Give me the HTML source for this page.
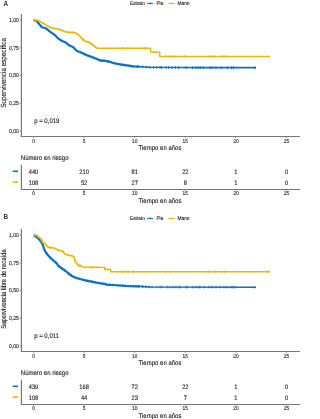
<!DOCTYPE html>
<html><head><meta charset="utf-8"><style>
html,body{margin:0;padding:0;background:#fff;width:300px;height:419px;overflow:hidden}
svg{display:block}
#w{width:300px;height:419px;will-change:transform}
text{font-family:"Liberation Sans", sans-serif;text-rendering:geometricPrecision}
</style></head><body><div id="w">
<svg width="300" height="419" viewBox="0 0 300 419">
<rect width="300" height="419" fill="#fff"/>
<text transform="translate(3.50,6.00) scale(1.0,1.12)" font-size="6.4" text-anchor="start" fill="#2a2a2a" stroke="#2a2a2a" stroke-width="0" font-weight="bold">A</text>
<text transform="translate(130.00,5.00) scale(1.0,1.12)" font-size="4.7" text-anchor="start" fill="#1a1a1a" stroke="#1a1a1a" stroke-width="0.1" >Estrato</text>
<line x1="147.00" y1="3.40" x2="153.20" y2="3.40" stroke="#0A70C0" stroke-width="1.0"/>
<line x1="150.40" y1="2.20" x2="150.40" y2="4.60" stroke="#0A70C0" stroke-width="0.7"/>
<text transform="translate(156.40,5.00) scale(1.0,1.12)" font-size="4.8" text-anchor="start" fill="#1a1a1a" stroke="#1a1a1a" stroke-width="0.1" >Pie</text>
<line x1="168.20" y1="3.40" x2="175.20" y2="3.40" stroke="#E9B800" stroke-width="1.0"/>
<line x1="171.70" y1="2.20" x2="171.70" y2="4.60" stroke="#E9B800" stroke-width="0.7"/>
<text transform="translate(177.50,5.00) scale(1.0,1.12)" font-size="4.8" text-anchor="start" fill="#1a1a1a" stroke="#1a1a1a" stroke-width="0.1" >Mano</text>
<line x1="21.40" y1="14.00" x2="21.40" y2="137.00" stroke="#777777" stroke-width="1.2"/>
<line x1="21.00" y1="136.50" x2="300.00" y2="136.50" stroke="#777777" stroke-width="1.2"/>
<line x1="19.60" y1="131.00" x2="21.20" y2="131.00" stroke="#777777" stroke-width="0.7"/>
<text transform="translate(18.90,132.80) scale(1.0,1.12)" font-size="5.1" text-anchor="end" fill="#1a1a1a" stroke="#1a1a1a" stroke-width="0.1" >0,00</text>
<line x1="19.60" y1="103.25" x2="21.20" y2="103.25" stroke="#777777" stroke-width="0.7"/>
<text transform="translate(18.90,105.05) scale(1.0,1.12)" font-size="5.1" text-anchor="end" fill="#1a1a1a" stroke="#1a1a1a" stroke-width="0.1" >0,25</text>
<line x1="19.60" y1="75.50" x2="21.20" y2="75.50" stroke="#777777" stroke-width="0.7"/>
<text transform="translate(18.90,77.30) scale(1.0,1.12)" font-size="5.1" text-anchor="end" fill="#1a1a1a" stroke="#1a1a1a" stroke-width="0.1" >0,50</text>
<line x1="19.60" y1="47.75" x2="21.20" y2="47.75" stroke="#777777" stroke-width="0.7"/>
<text transform="translate(18.90,49.55) scale(1.0,1.12)" font-size="5.1" text-anchor="end" fill="#1a1a1a" stroke="#1a1a1a" stroke-width="0.1" >0,75</text>
<line x1="19.60" y1="20.00" x2="21.20" y2="20.00" stroke="#777777" stroke-width="0.7"/>
<text transform="translate(18.90,21.80) scale(1.0,1.12)" font-size="5.1" text-anchor="end" fill="#1a1a1a" stroke="#1a1a1a" stroke-width="0.1" >1,00</text>
<line x1="33.50" y1="136.50" x2="33.50" y2="138.10" stroke="#777777" stroke-width="0.7"/>
<text transform="translate(33.50,142.70) scale(1.0,1.12)" font-size="4.9" text-anchor="middle" fill="#1a1a1a" stroke="#1a1a1a" stroke-width="0.1" >0</text>
<line x1="84.10" y1="136.50" x2="84.10" y2="138.10" stroke="#777777" stroke-width="0.7"/>
<text transform="translate(84.10,142.70) scale(1.0,1.12)" font-size="4.9" text-anchor="middle" fill="#1a1a1a" stroke="#1a1a1a" stroke-width="0.1" >5</text>
<line x1="134.70" y1="136.50" x2="134.70" y2="138.10" stroke="#777777" stroke-width="0.7"/>
<text transform="translate(134.70,142.70) scale(1.0,1.12)" font-size="4.9" text-anchor="middle" fill="#1a1a1a" stroke="#1a1a1a" stroke-width="0.1" >10</text>
<line x1="185.30" y1="136.50" x2="185.30" y2="138.10" stroke="#777777" stroke-width="0.7"/>
<text transform="translate(185.30,142.70) scale(1.0,1.12)" font-size="4.9" text-anchor="middle" fill="#1a1a1a" stroke="#1a1a1a" stroke-width="0.1" >15</text>
<line x1="235.90" y1="136.50" x2="235.90" y2="138.10" stroke="#777777" stroke-width="0.7"/>
<text transform="translate(235.90,142.70) scale(1.0,1.12)" font-size="4.9" text-anchor="middle" fill="#1a1a1a" stroke="#1a1a1a" stroke-width="0.1" >20</text>
<line x1="286.50" y1="136.50" x2="286.50" y2="138.10" stroke="#777777" stroke-width="0.7"/>
<text transform="translate(286.50,142.70) scale(1.0,1.12)" font-size="4.9" text-anchor="middle" fill="#1a1a1a" stroke="#1a1a1a" stroke-width="0.1" >25</text>
<text transform="translate(160.00,149.70) scale(1.0,1.12)" font-size="6.0" text-anchor="middle" fill="#1a1a1a" stroke="#1a1a1a" stroke-width="0.1" >Tiempo en años</text>
<text x="0" y="0" font-size="6.3" text-anchor="middle" fill="#1a1a1a" stroke="#1a1a1a" stroke-width="0.1" transform="translate(5.9,72.80) rotate(-90) scale(1,1.2)">Supervivencia específica</text>
<text transform="translate(34.20,122.60) scale(1.0,1.12)" font-size="6.0" text-anchor="start" fill="#1a1a1a" stroke="#1a1a1a" stroke-width="0.1" >p = 0,019</text>
<polyline points="33.50,20.00 36.70,21.00 39.30,24.30 42.00,27.30 46.00,28.30 50.00,31.70 54.00,34.30 58.00,38.30 62.00,41.00 65.50,42.30 69.50,45.60 73.00,47.00 77.00,51.00 82.30,53.00 86.30,55.00 91.70,57.00 97.00,59.00 101.00,60.70 104.00,60.70 109.30,61.60 113.30,63.00 120.00,64.30 126.70,65.30 133.30,66.40 140.00,66.70 140.00,66.70" fill="none" stroke="#0A70C0" stroke-width="2.2" stroke-linejoin="round" stroke-linecap="butt"/>
<polyline points="140.00,66.70 140.00,66.70 150.00,67.30 200.00,67.60 256.00,67.60" fill="none" stroke="#0A70C0" stroke-width="1.6" stroke-linejoin="round" stroke-linecap="butt"/>
<path d="M82.00 51.59V54.19M85.00 53.05V55.65M88.00 54.33V56.93M91.00 55.44V58.04M94.00 56.57V59.17M97.00 57.70V60.30M100.00 58.98V61.58M102.70 59.40V62.00M108.00 60.08V62.68M114.70 61.97V64.57M121.30 63.19V65.79M125.30 63.79V66.39M129.30 64.43V67.03M133.30 65.10V67.70M137.30 65.28V67.88M142.70 65.56V68.16M146.70 65.80V68.40M150.00 66.00V68.60M153.30 66.02V68.62M156.70 66.04V68.64M160.00 66.06V68.66M161.30 66.07V68.67M166.00 66.10V68.70M168.70 66.11V68.71M172.00 66.13V68.73M175.30 66.15V68.75M178.70 66.17V68.77M186.00 66.22V68.82M192.70 66.26V68.86M196.00 66.28V68.88M198.70 66.29V68.89M200.70 66.30V68.90M203.30 66.30V68.90M210.00 66.30V68.90M212.00 66.30V68.90M216.00 66.30V68.90M221.00 66.30V68.90M227.60 66.30V68.90M231.60 66.30V68.90M233.60 66.30V68.90M255.00 66.30V68.90" stroke="#0A70C0" stroke-width="1.0" fill="none"/>
<polyline points="33.50,20.00 38.00,20.30 40.00,21.70 43.30,23.30 46.00,25.00 50.00,27.30 54.00,28.30 58.00,29.00 62.00,30.30 64.70,31.70 69.00,32.30 74.30,32.30 77.00,33.70 79.70,35.70 82.30,39.00 85.00,41.00 89.00,42.30 93.00,45.00 97.00,48.20 97.00,48.20" fill="none" stroke="#E9B800" stroke-width="1.75" stroke-linejoin="round" stroke-linecap="butt"/>
<polyline points="97.00,48.20 97.00,48.20 150.70,48.20 150.70,52.10 159.70,52.10 159.70,56.50 270.00,56.50" fill="none" stroke="#E9B800" stroke-width="1.4" stroke-linejoin="round" stroke-linecap="butt"/>
<path d="M83.00 38.22V40.82M88.00 40.67V43.27M92.00 43.03V45.62M120.00 46.90V49.50M122.70 46.90V49.50M128.00 46.90V49.50M144.00 46.90V49.50M145.30 46.90V49.50M153.30 50.80V53.40M156.00 50.80V53.40M165.30 55.20V57.80M170.70 55.20V57.80M174.70 55.20V57.80M184.70 55.20V57.80M209.30 55.20V57.80M213.30 55.20V57.80M222.70 55.20V57.80M225.30 55.20V57.80" stroke="#E9B800" stroke-width="1.0" fill="none"/>
<text transform="translate(20.80,160.00) scale(1.0,1.12)" font-size="6.0" text-anchor="start" fill="#1a1a1a" stroke="#1a1a1a" stroke-width="0.1" >Número en riesgo</text>
<line x1="12.70" y1="171.30" x2="18.00" y2="171.30" stroke="#0A70C0" stroke-width="1.6"/>
<line x1="12.70" y1="182.10" x2="18.00" y2="182.10" stroke="#E9B800" stroke-width="1.6"/>
<line x1="21.40" y1="164.70" x2="21.40" y2="190.00" stroke="#777777" stroke-width="1.2"/>
<line x1="21.00" y1="189.50" x2="300.00" y2="189.50" stroke="#777777" stroke-width="1.2"/>
<text transform="translate(33.50,174.00) scale(1.0,1.12)" font-size="5.7" text-anchor="middle" fill="#1a1a1a" stroke="#1a1a1a" stroke-width="0.1" >440</text>
<text transform="translate(33.50,184.80) scale(1.0,1.12)" font-size="5.7" text-anchor="middle" fill="#1a1a1a" stroke="#1a1a1a" stroke-width="0.1" >108</text>
<line x1="33.50" y1="189.50" x2="33.50" y2="191.10" stroke="#777777" stroke-width="0.7"/>
<text transform="translate(33.50,195.10) scale(1.0,1.12)" font-size="4.9" text-anchor="middle" fill="#1a1a1a" stroke="#1a1a1a" stroke-width="0.1" >0</text>
<text transform="translate(84.10,174.00) scale(1.0,1.12)" font-size="5.7" text-anchor="middle" fill="#1a1a1a" stroke="#1a1a1a" stroke-width="0.1" >210</text>
<text transform="translate(84.10,184.80) scale(1.0,1.12)" font-size="5.7" text-anchor="middle" fill="#1a1a1a" stroke="#1a1a1a" stroke-width="0.1" >52</text>
<line x1="84.10" y1="189.50" x2="84.10" y2="191.10" stroke="#777777" stroke-width="0.7"/>
<text transform="translate(84.10,195.10) scale(1.0,1.12)" font-size="4.9" text-anchor="middle" fill="#1a1a1a" stroke="#1a1a1a" stroke-width="0.1" >5</text>
<text transform="translate(134.70,174.00) scale(1.0,1.12)" font-size="5.7" text-anchor="middle" fill="#1a1a1a" stroke="#1a1a1a" stroke-width="0.1" >81</text>
<text transform="translate(134.70,184.80) scale(1.0,1.12)" font-size="5.7" text-anchor="middle" fill="#1a1a1a" stroke="#1a1a1a" stroke-width="0.1" >27</text>
<line x1="134.70" y1="189.50" x2="134.70" y2="191.10" stroke="#777777" stroke-width="0.7"/>
<text transform="translate(134.70,195.10) scale(1.0,1.12)" font-size="4.9" text-anchor="middle" fill="#1a1a1a" stroke="#1a1a1a" stroke-width="0.1" >10</text>
<text transform="translate(185.30,174.00) scale(1.0,1.12)" font-size="5.7" text-anchor="middle" fill="#1a1a1a" stroke="#1a1a1a" stroke-width="0.1" >22</text>
<text transform="translate(185.30,184.80) scale(1.0,1.12)" font-size="5.7" text-anchor="middle" fill="#1a1a1a" stroke="#1a1a1a" stroke-width="0.1" >8</text>
<line x1="185.30" y1="189.50" x2="185.30" y2="191.10" stroke="#777777" stroke-width="0.7"/>
<text transform="translate(185.30,195.10) scale(1.0,1.12)" font-size="4.9" text-anchor="middle" fill="#1a1a1a" stroke="#1a1a1a" stroke-width="0.1" >15</text>
<text transform="translate(235.90,174.00) scale(1.0,1.12)" font-size="5.7" text-anchor="middle" fill="#1a1a1a" stroke="#1a1a1a" stroke-width="0.1" >1</text>
<text transform="translate(235.90,184.80) scale(1.0,1.12)" font-size="5.7" text-anchor="middle" fill="#1a1a1a" stroke="#1a1a1a" stroke-width="0.1" >1</text>
<line x1="235.90" y1="189.50" x2="235.90" y2="191.10" stroke="#777777" stroke-width="0.7"/>
<text transform="translate(235.90,195.10) scale(1.0,1.12)" font-size="4.9" text-anchor="middle" fill="#1a1a1a" stroke="#1a1a1a" stroke-width="0.1" >20</text>
<text transform="translate(286.50,174.00) scale(1.0,1.12)" font-size="5.7" text-anchor="middle" fill="#1a1a1a" stroke="#1a1a1a" stroke-width="0.1" >0</text>
<text transform="translate(286.50,184.80) scale(1.0,1.12)" font-size="5.7" text-anchor="middle" fill="#1a1a1a" stroke="#1a1a1a" stroke-width="0.1" >0</text>
<line x1="286.50" y1="189.50" x2="286.50" y2="191.10" stroke="#777777" stroke-width="0.7"/>
<text transform="translate(286.50,195.10) scale(1.0,1.12)" font-size="4.9" text-anchor="middle" fill="#1a1a1a" stroke="#1a1a1a" stroke-width="0.1" >25</text>
<text transform="translate(160.00,202.50) scale(1.0,1.12)" font-size="6.0" text-anchor="middle" fill="#1a1a1a" stroke="#1a1a1a" stroke-width="0.1" >Tiempo en años</text>
<text transform="translate(3.50,219.30) scale(1.0,1.12)" font-size="6.4" text-anchor="start" fill="#2a2a2a" stroke="#2a2a2a" stroke-width="0" font-weight="bold">B</text>
<text transform="translate(130.00,220.00) scale(1.0,1.12)" font-size="4.7" text-anchor="start" fill="#1a1a1a" stroke="#1a1a1a" stroke-width="0.1" >Estrato</text>
<line x1="147.00" y1="218.40" x2="153.20" y2="218.40" stroke="#0A70C0" stroke-width="1.0"/>
<line x1="150.40" y1="217.20" x2="150.40" y2="219.60" stroke="#0A70C0" stroke-width="0.7"/>
<text transform="translate(156.40,220.00) scale(1.0,1.12)" font-size="4.8" text-anchor="start" fill="#1a1a1a" stroke="#1a1a1a" stroke-width="0.1" >Pie</text>
<line x1="168.20" y1="218.40" x2="175.20" y2="218.40" stroke="#E9B800" stroke-width="1.0"/>
<line x1="171.70" y1="217.20" x2="171.70" y2="219.60" stroke="#E9B800" stroke-width="0.7"/>
<text transform="translate(177.50,220.00) scale(1.0,1.12)" font-size="4.8" text-anchor="start" fill="#1a1a1a" stroke="#1a1a1a" stroke-width="0.1" >Mano</text>
<line x1="21.40" y1="229.00" x2="21.40" y2="352.00" stroke="#777777" stroke-width="1.2"/>
<line x1="21.00" y1="351.50" x2="300.00" y2="351.50" stroke="#777777" stroke-width="1.2"/>
<line x1="19.60" y1="346.00" x2="21.20" y2="346.00" stroke="#777777" stroke-width="0.7"/>
<text transform="translate(18.90,347.80) scale(1.0,1.12)" font-size="5.1" text-anchor="end" fill="#1a1a1a" stroke="#1a1a1a" stroke-width="0.1" >0,00</text>
<line x1="19.60" y1="318.25" x2="21.20" y2="318.25" stroke="#777777" stroke-width="0.7"/>
<text transform="translate(18.90,320.05) scale(1.0,1.12)" font-size="5.1" text-anchor="end" fill="#1a1a1a" stroke="#1a1a1a" stroke-width="0.1" >0,25</text>
<line x1="19.60" y1="290.50" x2="21.20" y2="290.50" stroke="#777777" stroke-width="0.7"/>
<text transform="translate(18.90,292.30) scale(1.0,1.12)" font-size="5.1" text-anchor="end" fill="#1a1a1a" stroke="#1a1a1a" stroke-width="0.1" >0,50</text>
<line x1="19.60" y1="262.75" x2="21.20" y2="262.75" stroke="#777777" stroke-width="0.7"/>
<text transform="translate(18.90,264.55) scale(1.0,1.12)" font-size="5.1" text-anchor="end" fill="#1a1a1a" stroke="#1a1a1a" stroke-width="0.1" >0,75</text>
<line x1="19.60" y1="235.00" x2="21.20" y2="235.00" stroke="#777777" stroke-width="0.7"/>
<text transform="translate(18.90,236.80) scale(1.0,1.12)" font-size="5.1" text-anchor="end" fill="#1a1a1a" stroke="#1a1a1a" stroke-width="0.1" >1,00</text>
<line x1="33.50" y1="351.50" x2="33.50" y2="353.10" stroke="#777777" stroke-width="0.7"/>
<text transform="translate(33.50,357.70) scale(1.0,1.12)" font-size="4.9" text-anchor="middle" fill="#1a1a1a" stroke="#1a1a1a" stroke-width="0.1" >0</text>
<line x1="84.10" y1="351.50" x2="84.10" y2="353.10" stroke="#777777" stroke-width="0.7"/>
<text transform="translate(84.10,357.70) scale(1.0,1.12)" font-size="4.9" text-anchor="middle" fill="#1a1a1a" stroke="#1a1a1a" stroke-width="0.1" >5</text>
<line x1="134.70" y1="351.50" x2="134.70" y2="353.10" stroke="#777777" stroke-width="0.7"/>
<text transform="translate(134.70,357.70) scale(1.0,1.12)" font-size="4.9" text-anchor="middle" fill="#1a1a1a" stroke="#1a1a1a" stroke-width="0.1" >10</text>
<line x1="185.30" y1="351.50" x2="185.30" y2="353.10" stroke="#777777" stroke-width="0.7"/>
<text transform="translate(185.30,357.70) scale(1.0,1.12)" font-size="4.9" text-anchor="middle" fill="#1a1a1a" stroke="#1a1a1a" stroke-width="0.1" >15</text>
<line x1="235.90" y1="351.50" x2="235.90" y2="353.10" stroke="#777777" stroke-width="0.7"/>
<text transform="translate(235.90,357.70) scale(1.0,1.12)" font-size="4.9" text-anchor="middle" fill="#1a1a1a" stroke="#1a1a1a" stroke-width="0.1" >20</text>
<line x1="286.50" y1="351.50" x2="286.50" y2="353.10" stroke="#777777" stroke-width="0.7"/>
<text transform="translate(286.50,357.70) scale(1.0,1.12)" font-size="4.9" text-anchor="middle" fill="#1a1a1a" stroke="#1a1a1a" stroke-width="0.1" >25</text>
<text transform="translate(160.00,364.70) scale(1.0,1.12)" font-size="6.0" text-anchor="middle" fill="#1a1a1a" stroke="#1a1a1a" stroke-width="0.1" >Tiempo en años</text>
<text x="0" y="0" font-size="5.9" text-anchor="middle" fill="#1a1a1a" stroke="#1a1a1a" stroke-width="0.1" transform="translate(5.9,289.00) rotate(-90) scale(1,1.2)">Supervivencia libre de recaída</text>
<text transform="translate(34.20,337.60) scale(1.0,1.12)" font-size="6.0" text-anchor="start" fill="#1a1a1a" stroke="#1a1a1a" stroke-width="0.1" >p = 0,011</text>
<polyline points="33.50,235.30 35.30,236.00 38.00,238.00 40.70,241.30 42.70,244.70 44.00,248.70 46.00,252.70 48.70,256.00 52.70,260.00 56.70,263.30 58.00,265.50 62.00,268.50 65.00,270.50 68.00,273.00 72.00,276.00 75.00,277.50 80.00,279.00 85.00,280.30 91.70,281.70 98.30,283.00 104.00,283.80 106.70,284.60 113.30,285.00 126.70,286.00 140.00,286.40 140.00,286.40" fill="none" stroke="#0A70C0" stroke-width="2.2" stroke-linejoin="round" stroke-linecap="butt"/>
<polyline points="140.00,286.40 140.00,286.40 150.00,287.00 256.00,287.20" fill="none" stroke="#0A70C0" stroke-width="1.6" stroke-linejoin="round" stroke-linecap="butt"/>
<path d="M47.00 252.62V255.22M50.00 256.00V258.60M53.00 258.95V261.55M56.00 261.42V264.02M59.00 264.95V267.55M62.00 267.20V269.80M65.00 269.20V271.80M68.00 271.70V274.30M71.00 273.95V276.55M74.00 275.70V278.30M77.00 276.80V279.40M80.00 277.70V280.30M83.00 278.48V281.08M86.00 279.21V281.81M89.00 279.84V282.44M92.00 280.46V283.06M95.00 281.05V283.65M98.00 281.64V284.24M101.00 282.08V284.68M104.00 282.50V285.10M106.70 283.30V285.90M109.30 283.46V286.06M113.30 283.70V286.30M117.30 284.00V286.60M120.00 284.20V286.80M122.70 284.40V287.00M125.30 284.60V287.20M128.00 284.74V287.34M130.70 284.82V287.42M133.30 284.90V287.50M136.00 284.98V287.58M138.70 285.06V287.66M142.70 285.26V287.86M146.00 285.46V288.06M149.30 285.66V288.26M152.00 285.70V288.30M157.00 285.71V288.31M160.00 285.72V288.32M162.00 285.72V288.32M167.00 285.73V288.33M170.00 285.74V288.34M173.00 285.74V288.34M176.00 285.75V288.35M179.00 285.75V288.35M180.00 285.76V288.36M186.00 285.77V288.37M187.00 285.77V288.37M193.00 285.78V288.38M196.00 285.79V288.39M199.00 285.79V288.39M200.00 285.79V288.39M204.00 285.80V288.40M209.00 285.81V288.41M212.00 285.82V288.42M216.00 285.82V288.42M220.00 285.83V288.43M224.00 285.84V288.44M227.00 285.85V288.45M231.00 285.85V288.45M233.00 285.86V288.46M235.00 285.86V288.46M254.00 285.90V288.50" stroke="#0A70C0" stroke-width="1.0" fill="none"/>
<polyline points="33.50,235.30 36.00,235.00 38.00,236.40 40.70,238.70 43.30,242.70 45.30,244.00 47.30,246.70 50.00,247.60 54.00,248.00 56.70,249.30 59.30,250.70 62.70,251.00 64.70,254.00 67.70,255.00 73.70,256.30 75.00,261.00 77.00,263.70 78.30,265.70 81.00,265.70 82.30,267.00 97.00,267.33" fill="none" stroke="#E9B800" stroke-width="1.75" stroke-linejoin="round" stroke-linecap="butt"/>
<polyline points="97.00,267.33 104.70,267.50 104.70,269.40 110.70,269.40 110.70,271.70 270.00,271.70" fill="none" stroke="#E9B800" stroke-width="1.4" stroke-linejoin="round" stroke-linecap="butt"/>
<path d="M38.00 235.10V237.70M42.00 239.40V242.00M50.00 246.30V248.90M58.00 248.70V251.30M68.00 253.76V256.37M80.00 264.40V267.00M86.00 265.78V268.38M92.00 265.92V268.52M98.00 266.05V268.65M105.30 268.10V270.70M108.00 268.10V270.70M117.30 270.40V273.00M123.30 270.40V273.00M128.00 270.40V273.00M133.30 270.40V273.00M144.00 270.40V273.00M165.30 270.40V273.00M170.70 270.40V273.00M208.00 270.40V273.00M215.00 270.40V273.00M221.70 270.40V273.00M225.00 270.40V273.00M268.00 270.40V273.00" stroke="#E9B800" stroke-width="1.0" fill="none"/>
<text transform="translate(20.80,375.00) scale(1.0,1.12)" font-size="6.0" text-anchor="start" fill="#1a1a1a" stroke="#1a1a1a" stroke-width="0.1" >Número en riesgo</text>
<line x1="12.70" y1="386.30" x2="18.00" y2="386.30" stroke="#0A70C0" stroke-width="1.6"/>
<line x1="12.70" y1="397.10" x2="18.00" y2="397.10" stroke="#E9B800" stroke-width="1.6"/>
<line x1="21.40" y1="379.70" x2="21.40" y2="405.00" stroke="#777777" stroke-width="1.2"/>
<line x1="21.00" y1="404.50" x2="300.00" y2="404.50" stroke="#777777" stroke-width="1.2"/>
<text transform="translate(33.50,389.00) scale(1.0,1.12)" font-size="5.7" text-anchor="middle" fill="#1a1a1a" stroke="#1a1a1a" stroke-width="0.1" >439</text>
<text transform="translate(33.50,399.80) scale(1.0,1.12)" font-size="5.7" text-anchor="middle" fill="#1a1a1a" stroke="#1a1a1a" stroke-width="0.1" >108</text>
<line x1="33.50" y1="404.50" x2="33.50" y2="406.10" stroke="#777777" stroke-width="0.7"/>
<text transform="translate(33.50,410.10) scale(1.0,1.12)" font-size="4.9" text-anchor="middle" fill="#1a1a1a" stroke="#1a1a1a" stroke-width="0.1" >0</text>
<text transform="translate(84.10,389.00) scale(1.0,1.12)" font-size="5.7" text-anchor="middle" fill="#1a1a1a" stroke="#1a1a1a" stroke-width="0.1" >168</text>
<text transform="translate(84.10,399.80) scale(1.0,1.12)" font-size="5.7" text-anchor="middle" fill="#1a1a1a" stroke="#1a1a1a" stroke-width="0.1" >44</text>
<line x1="84.10" y1="404.50" x2="84.10" y2="406.10" stroke="#777777" stroke-width="0.7"/>
<text transform="translate(84.10,410.10) scale(1.0,1.12)" font-size="4.9" text-anchor="middle" fill="#1a1a1a" stroke="#1a1a1a" stroke-width="0.1" >5</text>
<text transform="translate(134.70,389.00) scale(1.0,1.12)" font-size="5.7" text-anchor="middle" fill="#1a1a1a" stroke="#1a1a1a" stroke-width="0.1" >72</text>
<text transform="translate(134.70,399.80) scale(1.0,1.12)" font-size="5.7" text-anchor="middle" fill="#1a1a1a" stroke="#1a1a1a" stroke-width="0.1" >23</text>
<line x1="134.70" y1="404.50" x2="134.70" y2="406.10" stroke="#777777" stroke-width="0.7"/>
<text transform="translate(134.70,410.10) scale(1.0,1.12)" font-size="4.9" text-anchor="middle" fill="#1a1a1a" stroke="#1a1a1a" stroke-width="0.1" >10</text>
<text transform="translate(185.30,389.00) scale(1.0,1.12)" font-size="5.7" text-anchor="middle" fill="#1a1a1a" stroke="#1a1a1a" stroke-width="0.1" >22</text>
<text transform="translate(185.30,399.80) scale(1.0,1.12)" font-size="5.7" text-anchor="middle" fill="#1a1a1a" stroke="#1a1a1a" stroke-width="0.1" >7</text>
<line x1="185.30" y1="404.50" x2="185.30" y2="406.10" stroke="#777777" stroke-width="0.7"/>
<text transform="translate(185.30,410.10) scale(1.0,1.12)" font-size="4.9" text-anchor="middle" fill="#1a1a1a" stroke="#1a1a1a" stroke-width="0.1" >15</text>
<text transform="translate(235.90,389.00) scale(1.0,1.12)" font-size="5.7" text-anchor="middle" fill="#1a1a1a" stroke="#1a1a1a" stroke-width="0.1" >1</text>
<text transform="translate(235.90,399.80) scale(1.0,1.12)" font-size="5.7" text-anchor="middle" fill="#1a1a1a" stroke="#1a1a1a" stroke-width="0.1" >1</text>
<line x1="235.90" y1="404.50" x2="235.90" y2="406.10" stroke="#777777" stroke-width="0.7"/>
<text transform="translate(235.90,410.10) scale(1.0,1.12)" font-size="4.9" text-anchor="middle" fill="#1a1a1a" stroke="#1a1a1a" stroke-width="0.1" >20</text>
<text transform="translate(286.50,389.00) scale(1.0,1.12)" font-size="5.7" text-anchor="middle" fill="#1a1a1a" stroke="#1a1a1a" stroke-width="0.1" >0</text>
<text transform="translate(286.50,399.80) scale(1.0,1.12)" font-size="5.7" text-anchor="middle" fill="#1a1a1a" stroke="#1a1a1a" stroke-width="0.1" >0</text>
<line x1="286.50" y1="404.50" x2="286.50" y2="406.10" stroke="#777777" stroke-width="0.7"/>
<text transform="translate(286.50,410.10) scale(1.0,1.12)" font-size="4.9" text-anchor="middle" fill="#1a1a1a" stroke="#1a1a1a" stroke-width="0.1" >25</text>
<text transform="translate(160.00,417.50) scale(1.0,1.12)" font-size="6.0" text-anchor="middle" fill="#1a1a1a" stroke="#1a1a1a" stroke-width="0.1" >Tiempo en años</text>
</svg></div>
</body></html>
